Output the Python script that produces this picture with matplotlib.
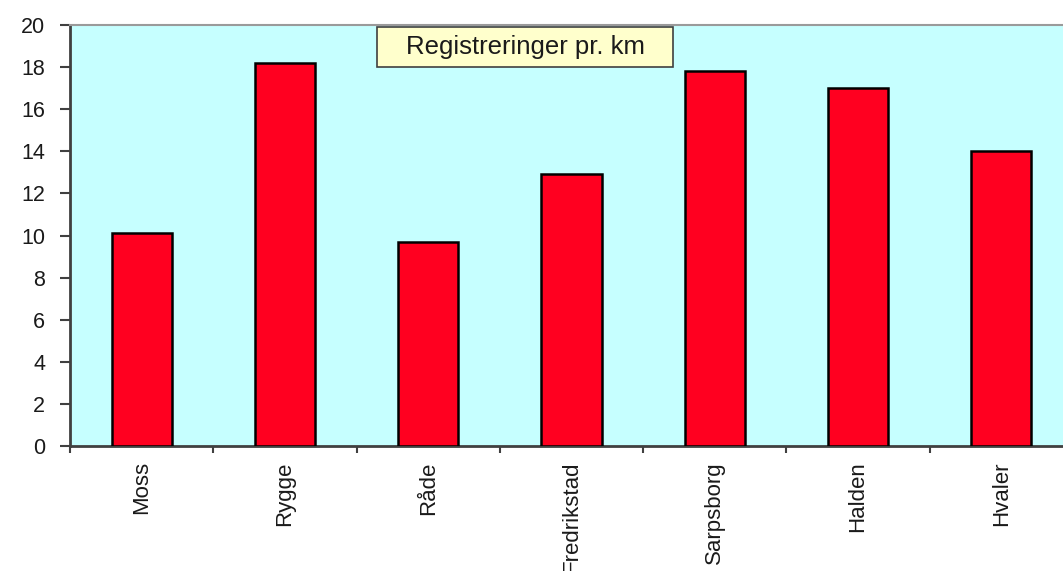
import matplotlib.pyplot as plt
from matplotlib.patches import Rectangle
import numpy as np

# Registrations per km for each municipality
kommuner = ["Moss", "Rygge", "Råde", "Fredrikstad", "Sarpsborg", "Halden", "Hvaler"]
reg_per_km = [10.1, 18.2, 9.7, 12.9, 17.8, 17.0, 14.0]
y_ticks = [0, 2, 4, 6, 8, 10, 12, 14, 16, 18, 20]
title_text = "Registreringer pr. km"

plt.rcParams["font.family"] = ["Liberation Sans", "DejaVu Sans"]

fig = plt.figure(figsize=(10.63, 5.71), dpi=100)
fig.patch.set_facecolor("white")
# axes run slightly past the right edge of the figure
ax = fig.add_axes([70 / 1063, 125 / 571, 1003 / 1063, 421 / 571])
ax.set_facecolor("#c6ffff")

x = np.arange(len(kommuner))
ax.bar(x, reg_per_km, width=0.42, color="#ff0020", edgecolor="black", linewidth=1.8, zorder=3)

ax.set_xlim(-0.5, len(kommuner) - 0.5)
ax.set_ylim(0, 20)
ax.set_yticks(y_ticks)
ax.tick_params(axis="y", direction="out", length=7, width=1.5, color="#404040",
               labelsize=15.5, pad=11, labelcolor="#1a1a1a")

ax.set_xticks(x)
ax.set_xticklabels(kommuner, rotation=90, fontsize=16, va="top", ha="center", color="#1a1a1a")
ax.tick_params(axis="x", which="major", length=0, pad=11)
ax.set_xticks(np.arange(len(kommuner) + 1) - 0.5, minor=True)
ax.tick_params(axis="x", which="minor", direction="out", length=5, width=1.5, color="#404040")

for side in ["left", "bottom"]:
    ax.spines[side].set_color("#404040")
    ax.spines[side].set_linewidth(2)
ax.spines["top"].set_color("#9a9a9a")
ax.spines["top"].set_linewidth(1.5)
ax.spines["right"].set_visible(False)

# label box inside the plot area
box_left, box_right = (377 - 70) / 1003, (673 - 70) / 1003
box_bottom, box_top = (446 - 67) / 421, (446 - 27) / 421
ax.add_patch(Rectangle((box_left, box_bottom), box_right - box_left, box_top - box_bottom,
                       transform=ax.transAxes, facecolor="#ffffcc", edgecolor="#404040",
                       linewidth=1.2, zorder=4))
ax.text((box_left + box_right) / 2, (box_bottom + box_top) / 2, title_text,
        transform=ax.transAxes, ha="center", va="center", fontsize=18.5,
        color="#1a1a1a", zorder=5)

fig.savefig("out.png", dpi=100)
